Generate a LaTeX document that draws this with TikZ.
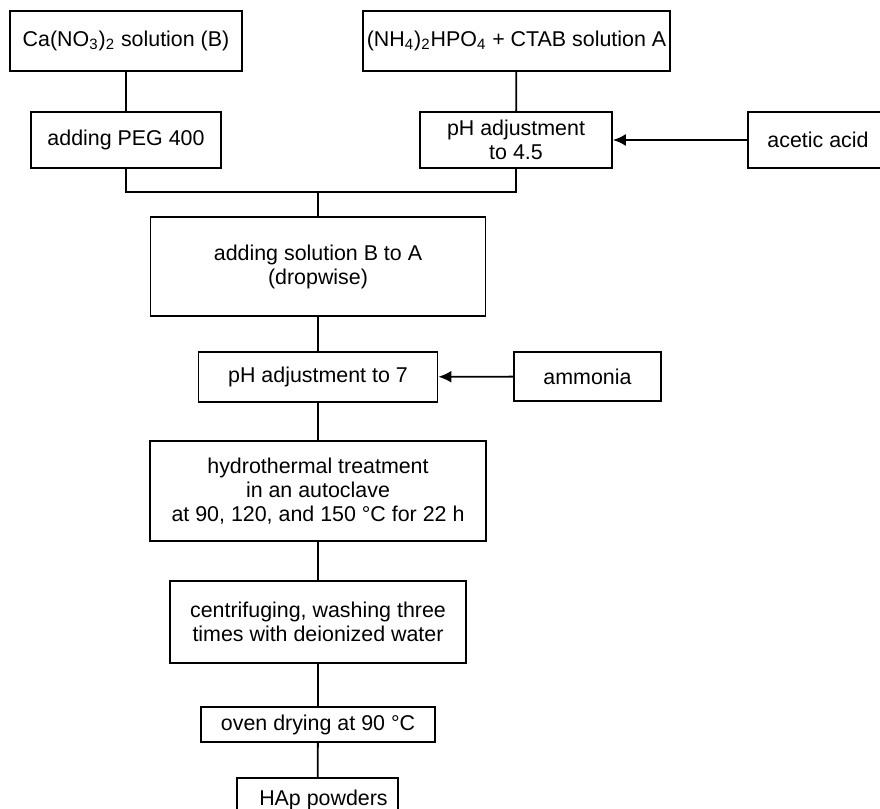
\documentclass[tikz,border=0pt]{standalone}
\usepackage{fontspec}
\setmainfont{Liberation Sans}
\usetikzlibrary{arrows.meta}

\tikzset{
  box/.style={draw, line width=0.9pt, align=center, inner sep=2pt,
    font=\fontsize{10.7pt}{12pt}\selectfont},
  link/.style={line width=0.9pt},
  feed/.style={line width=0.9pt, -{Latex[length=6.5pt,width=6pt]}}
}

\begin{document}
\begin{tikzpicture}[x=0.5pt,y=-0.5pt]
\useasboundingbox (0,0) rectangle (880,809);
% starting solutions
\node[box, minimum width=116pt, minimum height=30pt] (ca) at (126,41) {Ca(NO\textsubscript{3})\textsubscript{2} solution (B)};
\node[box, minimum width=151.5pt, minimum height=30pt] (nh) at (516.5,41) {(NH\textsubscript{4})\textsubscript{2}HPO\textsubscript{4} + CTAB solution A};
\node[box, minimum width=95pt, minimum height=28pt] (peg) at (126,140) {adding PEG 400};
\node[box, minimum width=96pt, minimum height=28pt] (ph45) at (516,140) {pH adjustment\\to 4.5};
\node[box, minimum width=70pt, minimum height=28pt] (acetic) at (818,140) {acetic acid};
\coordinate (join) at (318,192);
% main line
\node[box, minimum width=167.5pt, minimum height=49.5pt] (addB) at (318,266.5) {adding solution B to A\\(dropwise)};
\node[box, minimum width=119.5pt, minimum height=25pt] (ph7) at (318,377) {pH adjustment to 7};
\node[box, minimum width=73.5pt, minimum height=24.5pt] (ammonia) at (587.5,376.5) {ammonia};
\node[box, minimum width=168pt, minimum height=50pt] (hydro) at (318,491) {hydrothermal treatment\\in an autoclave\\at 90, 120, and 150 °C for 22 h};
\node[box, minimum width=148pt, minimum height=41pt] (wash) at (318,622) {centrifuging, washing three\\times with deionized water};
\node[box, minimum width=117pt, minimum height=17.5pt] (oven) at (318,724.5) {oven drying at 90 °C};
\node[box, minimum width=80.5pt, minimum height=22pt] (hap) at (317.5,800) {\hspace{6pt}HAp powders};

\draw[link] (ca) -- (peg);
\draw[link] (nh) -- (ph45);
\draw[link] (peg.south) |- (join) -| (ph45.south);
\draw[link] (join) -- (addB);
\draw[feed] (acetic) -- (ph45);
\draw[link] (addB) -- (ph7);
\draw[feed] (ammonia) -- (ph7);
\draw[link] (ph7) -- (hydro);
\draw[link] (hydro) -- (wash);
\draw[link] (wash) -- (oven);
\draw[link] (oven) -- (hap);
\end{tikzpicture}
\end{document}
